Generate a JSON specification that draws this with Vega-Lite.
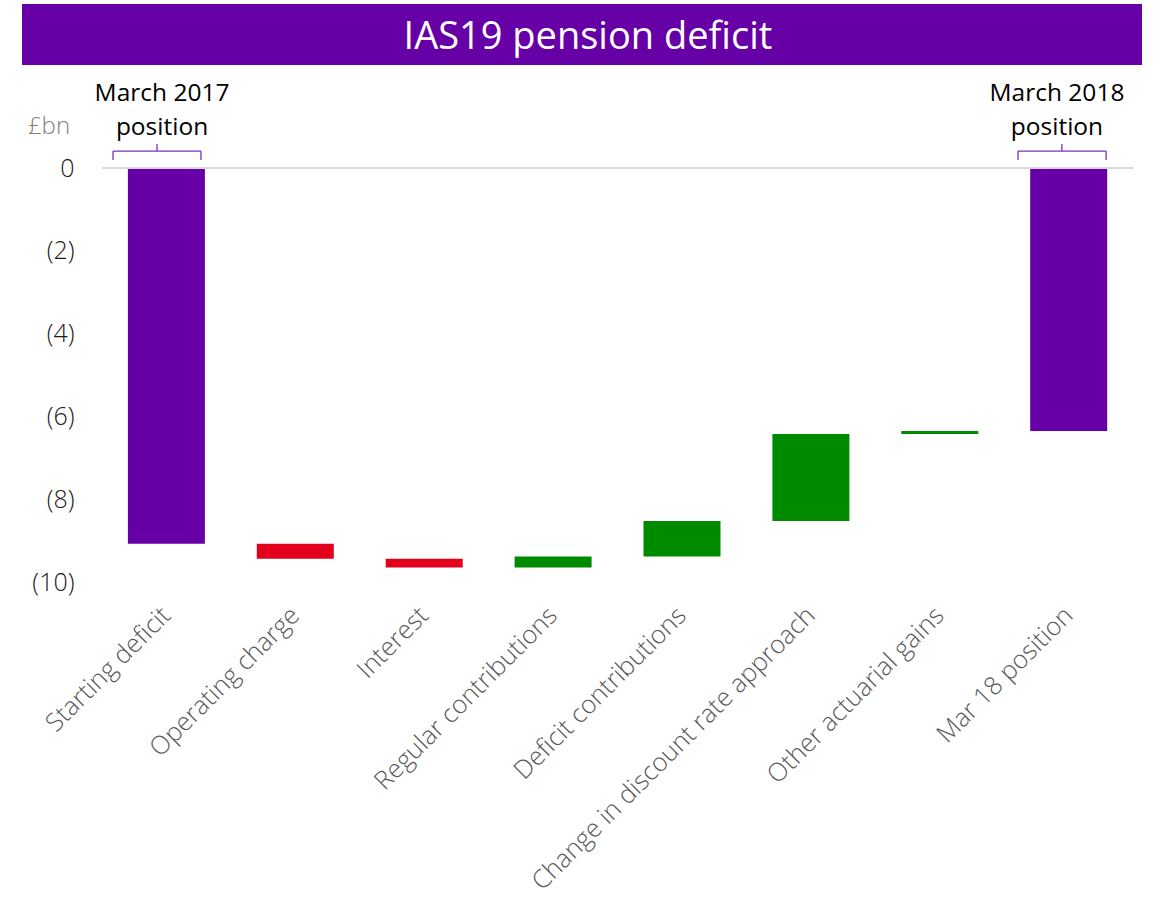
{
  "$schema": "https://vega.github.io/schema/vega-lite/v6.json",
  "width": 1120,
  "height": 603,
  "padding": {"left": 22, "right": 22, "top": 0, "bottom": 0},
  "autosize": {"type": "pad"},
  "background": "white",
  "config": {"view": {"stroke": null}, "font": "Open Sans"},
  "datasets": {
    "steps": [
      {"item": "Starting deficit", "from": 0, "to": -9.07, "kind": "total"},
      {"item": "Operating charge", "from": -9.07, "to": -9.43, "kind": "increase"},
      {"item": "Interest", "from": -9.43, "to": -9.64, "kind": "increase"},
      {"item": "Regular contributions", "from": -9.64, "to": -9.38, "kind": "decrease"},
      {"item": "Deficit contributions", "from": -9.38, "to": -8.52, "kind": "decrease"},
      {"item": "Change in discount rate approach", "from": -8.52, "to": -6.42, "kind": "decrease"},
      {"item": "Other actuarial gains", "from": -6.42, "to": -6.35, "kind": "decrease"},
      {"item": "Mar 18 position", "from": 0, "to": -6.35, "kind": "total"}
    ],
    "banner": [{"top": 3.96, "bottom": 2.488}],
    "titletext": [{"t": "IAS19 pension deficit", "x": 3.27, "y": 2.874}],
    "zeroline": [{"a": -0.5, "b": 7.5, "v": 0}],
    "brackets": [
      {"x": -0.414, "x2": -0.414, "y": 0.193, "y2": 0.411},
      {"x": -0.414, "x2": 0.268, "y": 0.411, "y2": 0.411},
      {"x": 0.268, "x2": 0.268, "y": 0.193, "y2": 0.411},
      {"x": -0.073, "x2": -0.073, "y": 0.411, "y2": 0.58},
      {"x": 6.607, "x2": 6.607, "y": 0.193, "y2": 0.411},
      {"x": 6.607, "x2": 7.29, "y": 0.411, "y2": 0.411},
      {"x": 7.29, "x2": 7.29, "y": 0.193, "y2": 0.411},
      {"x": 6.947, "x2": 6.947, "y": 0.411, "y2": 0.58}
    ],
    "notes": [
      {"t": "March 2017\nposition", "x": -0.034, "y": 1.618},
      {"t": "March 2018\nposition", "x": 6.909, "y": 1.618}
    ],
    "unit": [{"t": "£bn", "x": -0.911, "y": 0.99}]
  },
  "layer": [
    {
      "data": {"name": "steps"},
      "mark": {"type": "bar"},
      "encoding": {
        "x": {
          "field": "item",
          "type": "nominal",
          "sort": null,
          "scale": {"paddingInner": 0.4026, "paddingOuter": 0.5457, "align": 0.7527},
          "axis": {
            "title": null,
            "labelAngle": -45,
            "labelAlign": "right",
            "labelBaseline": "middle",
            "labelPadding": 8,
            "labelFontSize": 25.5,
            "labelFont": "Open Sans",
            "labelFontWeight": 300,
            "labelColor": "#595959",
            "labelLimit": 0,
            "domain": false,
            "ticks": false,
            "grid": false
          }
        },
        "y": {
          "field": "from",
          "type": "quantitative",
          "scale": {"domain": [-10.5, 4.058], "nice": false, "zero": false},
          "axis": {
            "title": null,
            "values": [0, -2, -4, -6, -8, -10],
            "labelExpr": "datum.value < 0 ? '(' + format(-datum.value, 'd') + ')' : '0'",
            "offset": -80,
            "labelPadding": 28,
            "labelFontSize": 25,
            "labelFont": "Open Sans",
            "labelFontWeight": 300,
            "labelColor": "#1a1a1a",
            "domain": false,
            "ticks": false,
            "grid": false
          }
        },
        "y2": {"field": "to"},
        "color": {
          "field": "kind",
          "type": "nominal",
          "scale": {"domain": ["total", "increase", "decrease"], "range": ["#6600a6", "#e3001b", "#008a00"]},
          "legend": null
        }
      }
    },
    {
      "layer": [
        {
          "data": {"name": "banner"},
          "mark": {"type": "rect", "color": "#6600a6"},
          "encoding": {
            "y": {"field": "top", "type": "quantitative", "title": null},
            "y2": {"field": "bottom"}
          }
        },
        {
          "data": {"name": "titletext"},
          "mark": {"type": "text", "color": "white", "fontSize": 38, "font": "Open Sans", "fontWeight": 400, "align": "center", "baseline": "alphabetic"},
          "encoding": {
            "x": {"field": "x", "type": "quantitative", "scale": {"domain": [-1.1203, 7.5686], "nice": false, "zero": false}, "axis": null},
            "y": {"field": "y", "type": "quantitative", "title": null},
            "text": {"field": "t"}
          }
        },
        {
          "data": {"name": "zeroline"},
          "mark": {"type": "rule", "color": "#d9d9d9", "strokeWidth": 2},
          "encoding": {
            "x": {"field": "a", "type": "quantitative", "scale": {"domain": [-1.1203, 7.5686], "nice": false, "zero": false}, "axis": null},
            "x2": {"field": "b"},
            "y": {"field": "v", "type": "quantitative", "title": null}
          }
        },
        {
          "data": {"name": "brackets"},
          "mark": {"type": "rule", "color": "#7a2ec4", "strokeWidth": 1.3},
          "encoding": {
            "x": {"field": "x", "type": "quantitative", "scale": {"domain": [-1.1203, 7.5686], "nice": false, "zero": false}, "axis": null},
            "x2": {"field": "x2"},
            "y": {"field": "y", "type": "quantitative", "title": null},
            "y2": {"field": "y2"}
          }
        },
        {
          "data": {"name": "notes"},
          "mark": {"type": "text", "color": "black", "fontSize": 24.5, "font": "Open Sans", "align": "center", "baseline": "alphabetic", "lineBreak": "\n", "lineHeight": 34},
          "encoding": {
            "x": {"field": "x", "type": "quantitative", "scale": {"domain": [-1.1203, 7.5686], "nice": false, "zero": false}, "axis": null},
            "y": {"field": "y", "type": "quantitative", "title": null},
            "text": {"field": "t"}
          }
        },
        {
          "data": {"name": "unit"},
          "mark": {"type": "text", "color": "#7f7f7f", "fontSize": 24, "font": "Open Sans", "fontWeight": 300, "align": "center", "baseline": "middle"},
          "encoding": {
            "x": {"field": "x", "type": "quantitative", "scale": {"domain": [-1.1203, 7.5686], "nice": false, "zero": false}, "axis": null},
            "y": {"field": "y", "type": "quantitative", "title": null},
            "text": {"field": "t"}
          }
        }
      ]
    }
  ],
  "resolve": {"scale": {"x": "independent"}}
}
